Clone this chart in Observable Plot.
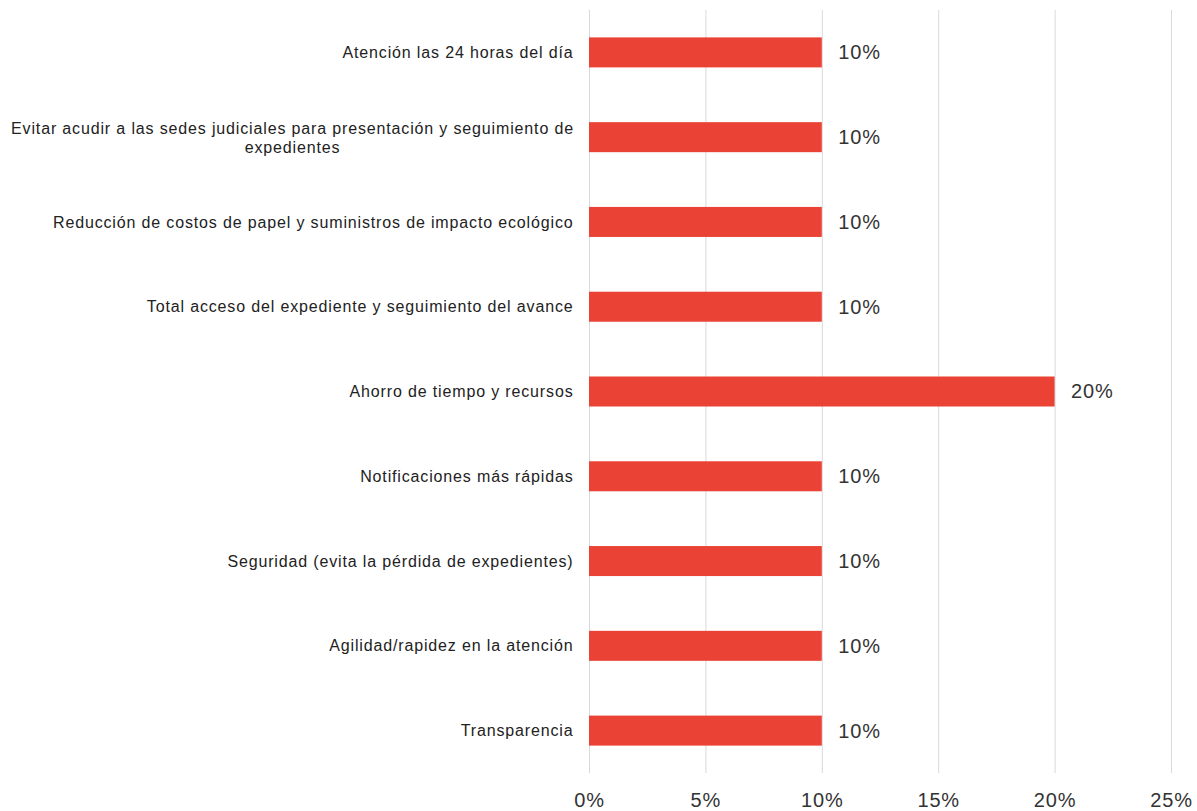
<!DOCTYPE html>
<html>
<head>
<meta charset="utf-8">
<script src="https://cdn.jsdelivr.net/npm/d3@7"></script>
<script src="https://cdn.jsdelivr.net/npm/@observablehq/plot@0.6"></script>
<style>
  html, body { margin: 0; padding: 0; background: #fff; }
  #chart svg { display: block; }
  #chart svg text { letter-spacing: 0.85px; }
</style>
</head>
<body>
<div id="chart"></div>
<script>
const categories = [
  "Atención las 24 horas del día",
  "Evitar acudir a las sedes judiciales para presentación y seguimiento de\nexpedientes",
  "Reducción de costos de papel y suministros de impacto ecológico",
  "Total acceso del expediente y seguimiento del avance",
  "Ahorro de tiempo y recursos",
  "Notificaciones más rápidas",
  "Seguridad (evita la pérdida de expedientes)",
  "Agilidad/rapidez en la atención",
  "Transparencia"
];
const values = [0.10, 0.10, 0.10, 0.10, 0.20, 0.10, 0.10, 0.10, 0.10];
const xTicks = [0, 0.05, 0.10, 0.15, 0.20, 0.25];

const data = categories.map((c, i) => ({category: c, value: values[i]}));
const singleLine = data.filter(d => !d.category.includes("\n"));
const multiLine = data.filter(d => d.category.includes("\n"));

const font = "'Liberation Sans', Arial, sans-serif";

const chart = Plot.plot({
  width: 1197,
  height: 811,
  marginLeft: 589,
  marginRight: 26,
  marginTop: 10,
  marginBottom: 38,
  style: {fontFamily: font, background: "#fff"},
  x: {domain: [0, 0.25], label: null},
  y: {domain: categories, paddingInner: 0.646, paddingOuter: 0.323, round: false, label: null, axis: null},
  marks: [
    Plot.gridX(xTicks, {stroke: "#d9d9d9", strokeOpacity: 1, strokeWidth: 1}),
    Plot.barX(data, {x: "value", y: "category", fill: "#ea4335"}),
    Plot.text(data, {
      x: "value", y: "category",
      text: d => d3.format(".0%")(d.value),
      textAnchor: "start", dx: 16, fontSize: 20, fill: "#333"
    }),
    Plot.axisX({
      ticks: xTicks, tickFormat: d3.format(".0%"), tickSize: 0, tickPadding: 19,
      fontSize: 20, fill: "#333", label: null
    }),
    Plot.text(singleLine, {
      x: 0, y: "category", text: "category",
      textAnchor: "end", dx: -16, fontSize: 16, fill: "#222"
    }),
    Plot.text(multiLine, {
      x: 0, y: "category", text: "category",
      textAnchor: "middle", dx: -297, fontSize: 16, lineHeight: 1.19, fill: "#222"
    })
  ]
});
document.getElementById("chart").appendChild(chart);
</script>
</body>
</html>
